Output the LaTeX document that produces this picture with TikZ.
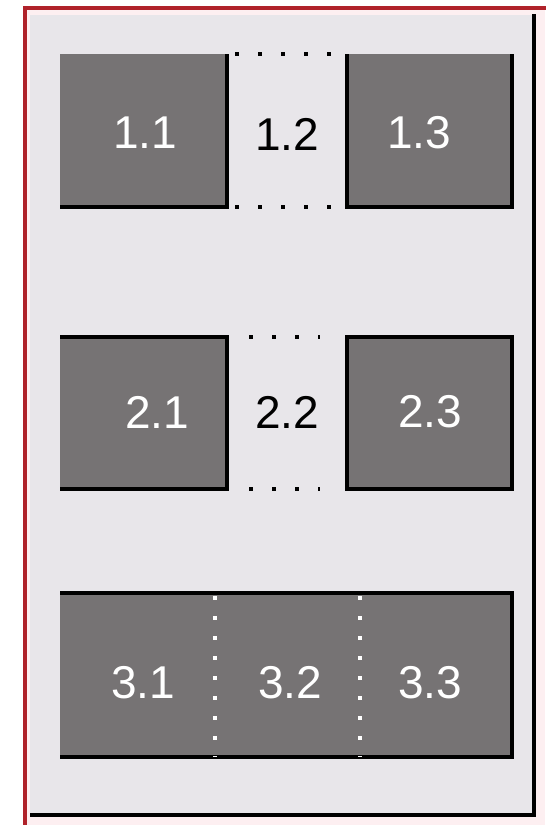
\documentclass[tikz,border=0pt]{standalone}
\usepackage{fontspec}
\setmainfont{Liberation Sans}
\definecolor{panelbg}{HTML}{E8E6EA}
\definecolor{boxgray}{HTML}{767374}
\definecolor{frame}{HTML}{B0222A}
\definecolor{pinkish}{HTML}{FDEFF1}
\tikzset{
  cell/.style={fill=boxgray, draw=none},
  edge/.style={line width=3.5pt, black},
  dotsblack/.style={line width=3.5pt, black, dash pattern=on 3.5pt off 19.5pt},
  dotswhite/.style={line width=3.5pt, white, dash pattern=on 3.5pt off 16.5pt},
  lblw/.style={text=white, font=\fontsize{46}{46}\selectfont, inner sep=0pt},
  lblb/.style={text=black, font=\fontsize{46}{46}\selectfont, inner sep=0pt},
}
\begin{document}
\begin{tikzpicture}[x=1pt,y=-1pt]
\useasboundingbox (0,0) rectangle (550,825);
\fill[white] (0,0) rectangle (550,825);
% outer frame
\fill[pinkish] (25,8) rectangle (545,825);
\fill[panelbg] (30,15) rectangle (534,815);
\draw[line width=3.5pt, black] (534,14) -- (534,815) -- (30,815);
\draw[line width=3.5pt, frame] (25,825) -- (25,8) -- (546,8);
% row 1
\fill[cell] (60,54) rectangle (227,207);
\draw[edge] (227,54) -- (227,207) -- (60,207);
\fill[cell] (347,54) rectangle (512,207);
\draw[edge] (347,54) -- (347,207) -- (512,207) -- (512,54);
\draw[dotsblack] (235,54) -- (345,54);
\draw[dotsblack] (235,207) -- (345,207);
\node[lblw] (a11) at (145,133) {1.1};
\node[lblb] (a12) at (287,134) {1.2};
\node[lblw] (a13) at (419,133) {1.3};
% row 2
\fill[cell] (60,337) rectangle (227,489);
\draw[edge] (60,337) -- (227,337) -- (227,489) -- (60,489);
\fill[cell] (347,337) rectangle (512,489);
\draw[edge] (347,337) rectangle (512,489);
\draw[dotsblack] (249,337) -- (320,337);
\draw[dotsblack] (249,489) -- (320,489);
\node[lblw] (a21) at (157,412) {2.1};
\node[lblb] (a22) at (287,412) {2.2};
\node[lblw] (a23) at (430,412) {2.3};
% row 3
\fill[cell] (60,593) rectangle (512,757);
\draw[edge] (60,593) -- (512,593) -- (512,757) -- (60,757);
\draw[dotswhite] (215,596) -- (215,757);
\draw[dotswhite] (360,596) -- (360,757);
\node[lblw] (a31) at (143,683) {3.1};
\node[lblw] (a32) at (290,683) {3.2};
\node[lblw] (a33) at (430,683) {3.3};
\end{tikzpicture}
\end{document}
